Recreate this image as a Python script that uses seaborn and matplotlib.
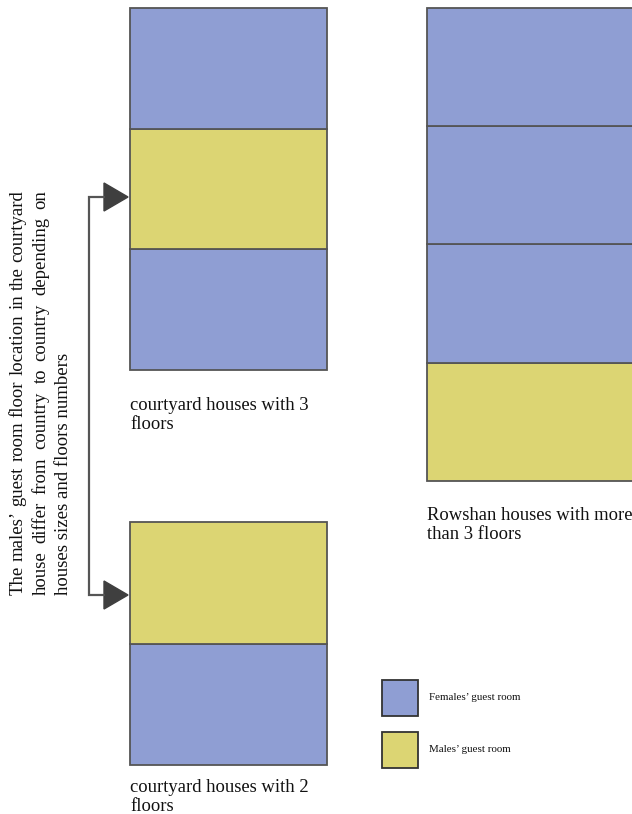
import matplotlib.pyplot as plt
import seaborn as sns
from matplotlib.patches import Polygon, Rectangle

# =============================================================================
# Data: floors listed from ground floor upwards
# =============================================================================
building_names = [["courtyard houses with 3", "floors"],
                  ["Rowshan houses with more", "than 3 floors"],
                  ["courtyard houses with 2", "floors"]]
building_floors = [["female", "male", "female"],
                   ["male", "female", "female", "female"],
                   ["female", "male"]]
legend_labels = ["Females\u2019 guest room", "Males\u2019 guest room"]
note_lines = ["The males\u2019 guest room floor location in the courtyard",
              "house differ from country to country depending on",
              "houses sizes and floors numbers"]
note_justify = [True, True, False]

# layout in pixel units (y measured downwards)
bld_left = [130, 427, 130]
bld_base = [370, 481, 765]
bld_width = [197, 215, 197]
floor_h = [120.7, 118.3, 121.5]
label_baseline = [410, 520, 792]
label_step = 19

colors = {"female": "#8f9ed3", "male": "#dcd573"}
edge = "#555555"

sns.set_theme(style="white")
plt.rcParams['font.family'] = ['Liberation Serif', 'DejaVu Serif']

fig = plt.figure(figsize=(6.32, 8.14), dpi=100)
ax = fig.add_axes([0, 0, 1, 1])
ax.set_xlim(0, 632)
ax.set_ylim(814, 0)
ax.axis('off')

## Stacked floors
for name, floors, x0, base, w, fh, lb in zip(building_names, building_floors,
                                             bld_left, bld_base, bld_width,
                                             floor_h, label_baseline):
    for i, kind in enumerate(floors):
        ax.bar(x0, -fh, bottom=base - i * fh, width=w, align='edge',
               color=colors[kind], edgecolor=edge, linewidth=1.3)
    for j, line in enumerate(name):
        ax.text(x0, lb + j * label_step, line, fontsize=13.4, color="#111111",
                va='baseline', ha='left')

## Bracket with two arrows
ax.plot([104, 89, 89, 104], [197, 197, 595, 595], color="#555555", lw=1.6,
        solid_joinstyle='miter')
for yc in [197, 595]:
    ax.add_patch(Polygon([[104, yc - 14], [104, yc + 14], [128, yc]],
                         closed=True, color="#3f3f3f"))

## Rotated note, justified like the source paragraph
renderer = fig.canvas.get_renderer()
note_start, note_len = 595, 405
for xc, line, just in zip([18, 41, 63], note_lines, note_justify):
    if not just:
        ax.text(xc, note_start, line, rotation=90, rotation_mode='anchor',
                ha='left', va='center', fontsize=13.5, color="#111111")
        continue
    words = line.split(" ")
    texts = [ax.text(xc, note_start, w_, rotation=90, rotation_mode='anchor',
                     ha='left', va='center', fontsize=13.5, color="#111111")
             for w_ in words]
    lens = [t.get_window_extent(renderer).height for t in texts]
    gap = (note_len - sum(lens)) / (len(words) - 1)
    pos = note_start
    for t, L in zip(texts, lens):
        t.set_y(pos)
        pos -= L + gap

## Legend
for (ly, lab, kind) in zip([680, 732], legend_labels, ["female", "male"]):
    ax.add_patch(Rectangle((382, ly), 36, 36, facecolor=colors[kind],
                           edgecolor="#333333", lw=1.3))
    ax.text(429, ly + 18, lab, fontsize=7.9, va='center', ha='left',
            color="#111111")

fig.savefig("out.png", dpi=100)
